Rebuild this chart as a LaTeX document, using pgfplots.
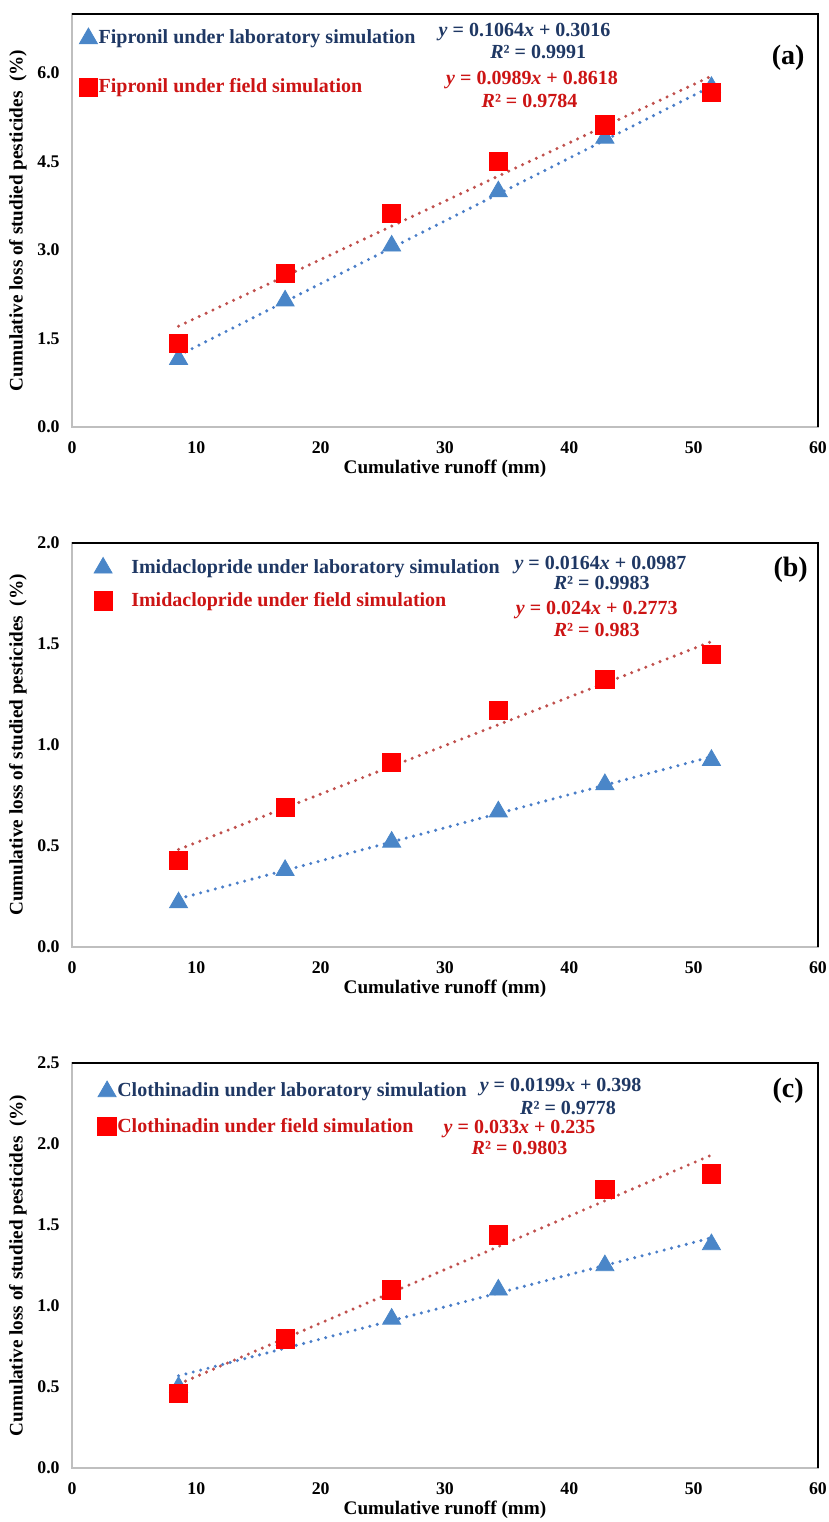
\documentclass[border=0pt]{standalone}
\usepackage{pgfplots}
\pgfplotsset{compat=1.18}
\usepackage{fontspec}
\setmainfont{Liberation Serif}
\definecolor{tri}{HTML}{4A86C8}
\definecolor{sq}{HTML}{FF0000}
\definecolor{tlb}{HTML}{4A7EC8}
\definecolor{tlr}{HTML}{C0504D}
\definecolor{txb}{HTML}{1F3864}
\definecolor{txr}{HTML}{CC1414}
\definecolor{axgray}{HTML}{BFBFBF}
\newcommand{\eqfont}{\bfseries\fontsize{10}{12}\selectfont}
\tikzset{eq/.style={font=\eqfont, inner sep=0.5pt}}
\pgfplotsset{
 panel/.style={
  scale only axis, width=373pt,
  xmin=0, xmax=60, xtick={0,10,...,60},
  axis line style={axgray, line width=1pt},
  major tick length=0pt,
  tick label style={font=\bfseries\fontsize{8.9}{10}\selectfont, text=black},
  /pgf/number format/assume math mode=true,
  yticklabel style={/pgf/number format/fixed, /pgf/number format/fixed zerofill, /pgf/number format/precision=1,
    anchor=east, inner sep=0pt, xshift=-6pt},
  xticklabel style={anchor=center, inner sep=0pt, yshift=-10.5pt},
  xlabel={Cumulative runoff (mm)},
  ylabel={Cumulative loss of studied pesticides\ \ (\%)},
  label style={font=\bfseries\fontsize{9.6}{11}\selectfont},
  xlabel style={at={(axis description cs:0.5,0)}, anchor=center, yshift=-21pt},
  ylabel style={at={(axis description cs:-0.0724,0.5)}, anchor=center},
  legend cell align=left,
  legend style={draw=none, fill=none, inner sep=0pt, anchor=west,
    font=\bfseries\fontsize{10}{12}\selectfont,
    nodes={inner xsep=0.5pt, inner ysep=1pt}},
  clip=false,
 },
 lab/.style={only marks, mark=triangle*, mark size=5.2pt, color=tri},
 field/.style={only marks, mark=square*, mark size=4.6pt, color=sq},
 tlab/.style={tlb, line width=1.7pt, dash pattern=on 0pt off 3.8pt, line cap=round, forget plot},
 tfield/.style={tlr, line width=1.7pt, dash pattern=on 0pt off 3.8pt, line cap=round, forget plot},
}
\begin{document}
\begin{tikzpicture}
\path[use as bounding box] (0,0) rectangle (414.5pt,-761pt);
% ---------------- (a)
\begin{axis}[panel, at={(36pt,-213.5pt)}, anchor=south west, height=206.5pt,
  ymin=0, ymax=7, ytick={0,1.5,3,4.5,6},
  legend style={at={(axis cs:0.55,6.17)}, row sep=14pt}]
\addplot[lab] coordinates {(8.57,1.15) (17.14,2.14) (25.71,3.07) (34.29,3.99) (42.86,4.90) (51.43,5.76)};
\addlegendentry{\textcolor{txb}{Fipronil under laboratory simulation}}
\addplot[field] coordinates {(8.57,1.42) (17.14,2.60) (25.71,3.62) (34.29,4.50) (42.86,5.12) (51.43,5.67)};
\addlegendentry{\textcolor{txr}{Fipronil under field simulation}}
\addplot[tlab] coordinates {(8.57,1.213) (51.43,5.774)};
\addplot[tfield] coordinates {(8.57,1.709) (51.43,5.948)};
\node[txb, eq] at (axis cs:36.4,6.70) {\textit{y} = 0.1064\textit{x} + 0.3016};
\node[txb, eq] at (axis cs:37.5,6.35) {\textit{R}² = 0.9991};
\node[txr, eq] at (axis cs:37.0,5.88) {\textit{y} = 0.0989\textit{x} + 0.8618};
\node[txr, eq] at (axis cs:36.8,5.53) {\textit{R}² = 0.9784};
\node[font=\bfseries\fontsize{14}{16}\selectfont] at (axis cs:57.6,6.25) {(a)};
\draw[black, line width=1pt] (rel axis cs:0,1) -- (rel axis cs:1,1) -- (rel axis cs:1,0);
\end{axis}
% ---------------- (b)
\begin{axis}[panel, at={(36pt,-473.5pt)}, anchor=south west, height=202pt,
  ymin=0, ymax=2, ytick={0,0.5,1,1.5,2},
  legend style={at={(axis cs:1.73,1.795)}, row sep=6pt}]
\addplot[lab] coordinates {(8.57,0.22) (17.14,0.38) (25.71,0.52) (34.29,0.67) (42.86,0.805) (51.43,0.925)};
\addlegendentry{\hspace*{9pt}\textcolor{txb}{Imidaclopride under laboratory simulation}}
\addplot[field] coordinates {(8.57,0.43) (17.14,0.69) (25.71,0.915) (34.29,1.17) (42.86,1.325) (51.43,1.45)};
\addlegendentry{\hspace*{9pt}\textcolor{txr}{Imidaclopride under field simulation}}
\addplot[tlab] coordinates {(8.57,0.239) (51.43,0.942)};
\addplot[tfield] coordinates {(8.57,0.483) (51.43,1.512)};
\node[txb, eq] at (axis cs:42.5,1.89) {\textit{y} = 0.0164\textit{x} + 0.0987};
\node[txb, eq] at (axis cs:42.6,1.80) {\textit{R}² = 0.9983};
\node[txr, eq] at (axis cs:42.2,1.67) {\textit{y} = 0.024\textit{x} + 0.2773};
\node[txr, eq] at (axis cs:42.2,1.57) {\textit{R}² = 0.983};
\node[font=\bfseries\fontsize{14}{16}\selectfont] at (axis cs:57.8,1.87) {(b)};
\draw[black, line width=1pt] (rel axis cs:0,1) -- (rel axis cs:1,1) -- (rel axis cs:1,0);
\end{axis}
% ---------------- (c)
\begin{axis}[panel, at={(36pt,-734pt)}, anchor=south west, height=202.5pt,
  ymin=0, ymax=2.5, ytick={0,0.5,1,1.5,2,2.5},
  legend style={at={(axis cs:2.05,2.216)}, row sep=7pt}]
\addplot[lab] coordinates {(8.57,0.50) (17.14,0.79) (25.71,0.92) (34.29,1.10) (42.86,1.25) (51.43,1.38)};
\addlegendentry{\textcolor{txb}{Clothinadin under laboratory simulation}}
\addplot[field] coordinates {(8.57,0.46) (17.14,0.796) (25.71,1.10) (34.29,1.44) (42.86,1.72) (51.43,1.815)};
\addlegendentry{\textcolor{txr}{Clothinadin under field simulation}}
\addplot[tlab] coordinates {(8.57,0.569) (51.43,1.421)};
\addplot[tfield] coordinates {(8.57,0.518) (51.43,1.932)};
\node[txb, eq] at (axis cs:39.3,2.355) {\textit{y} = 0.0199\textit{x} + 0.398};
\node[txb, eq] at (axis cs:39.9,2.225) {\textit{R}² = 0.9778};
\node[txr, eq] at (axis cs:36.0,2.095) {\textit{y} = 0.033\textit{x} + 0.235};
\node[txr, eq] at (axis cs:36.0,1.975) {\textit{R}² = 0.9803};
\node[font=\bfseries\fontsize{14}{16}\selectfont] at (axis cs:57.6,2.33) {(c)};
\draw[black, line width=1pt] (rel axis cs:0,1) -- (rel axis cs:1,1) -- (rel axis cs:1,0);
\end{axis}
\end{tikzpicture}
\end{document}
